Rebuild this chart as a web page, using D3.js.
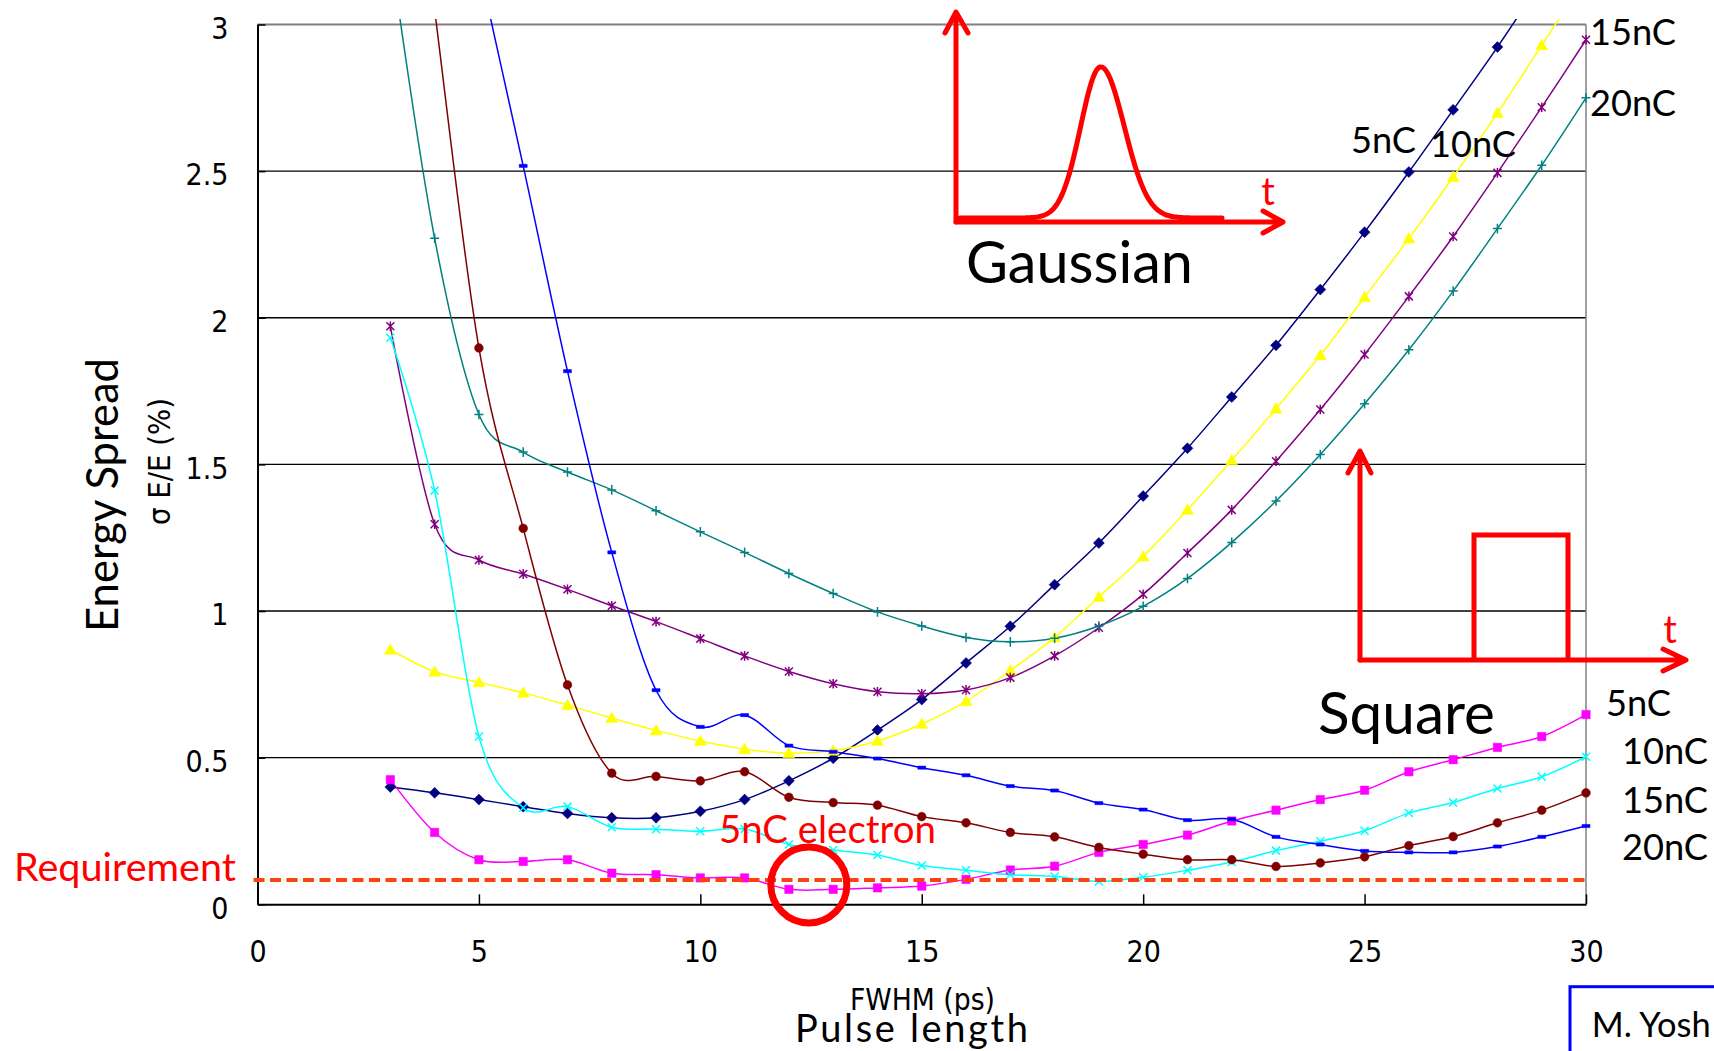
<!DOCTYPE html>
<html><head><meta charset="utf-8">
<script src="https://cdnjs.cloudflare.com/ajax/libs/d3/7.8.5/d3.min.js"></script>
<style>
html,body{margin:0;padding:0;background:#fff;overflow:hidden}
svg{display:block;background:#fff}
</style></head><body>
<svg id="chart" width="1714" height="1051"></svg>
<script>
// ---------------- DATA ----------------
const fwhm = [3,4,5,6,7,8,9,10,11,12,13,14,15,16,17,18,19,20,21,22,23,24,25,26,27,28,29,30];
// Gaussian laser pulse
const gauss5nC  = [0.400,0.380,0.357,0.333,0.310,0.295,0.295,0.317,0.357,0.421,0.498,0.594,0.698,0.823,0.948,1.090,1.232,1.392,1.555,1.730,1.906,2.096,2.292,2.497,2.709,2.923,3.150,3.380];
const gauss10nC = [0.868,0.793,0.757,0.721,0.679,0.635,0.593,0.557,0.529,0.515,0.524,0.557,0.615,0.692,0.797,0.910,1.048,1.186,1.345,1.514,1.690,1.872,2.070,2.270,2.480,2.698,2.929,3.160];
const gauss15nC = [1.971,1.296,1.174,1.126,1.074,1.018,0.964,0.906,0.847,0.794,0.752,0.725,0.718,0.731,0.773,0.847,0.943,1.057,1.198,1.345,1.511,1.687,1.875,2.073,2.277,2.494,2.718,2.948];
const gauss20nC = [3.250,2.271,1.670,1.542,1.474,1.413,1.342,1.270,1.200,1.128,1.060,0.997,0.949,0.910,0.895,0.907,0.949,1.016,1.111,1.234,1.375,1.534,1.707,1.891,2.091,2.304,2.520,2.750];
// Square laser pulse
const square5nC  = [0.425,0.245,0.152,0.146,0.152,0.106,0.101,0.090,0.090,0.051,0.051,0.056,0.062,0.085,0.117,0.130,0.177,0.204,0.236,0.284,0.321,0.357,0.389,0.452,0.493,0.535,0.572,0.647];
const square10nC = [1.932,1.411,0.572,0.329,0.333,0.263,0.256,0.249,0.257,0.204,0.185,0.168,0.132,0.116,0.101,0.095,0.078,0.092,0.116,0.144,0.183,0.215,0.251,0.311,0.347,0.395,0.435,0.503];
const square15nC = [4.300,3.050,1.897,1.282,0.748,0.447,0.436,0.421,0.452,0.365,0.347,0.338,0.299,0.278,0.245,0.230,0.194,0.171,0.152,0.152,0.129,0.141,0.162,0.200,0.231,0.278,0.321,0.380];
const square20nC = [null,3.900,3.200,2.518,1.818,1.200,0.730,0.605,0.645,0.541,0.520,0.497,0.466,0.440,0.403,0.388,0.345,0.323,0.287,0.290,0.230,0.204,0.182,0.177,0.177,0.197,0.230,0.267];

const requirement = 0.083;
const highlight = [12.45, 0.066];   // "5nC electron" circled point

const xTicks = [0,5,10,15,20,25,30];
const xTickLabels = ["0","5","10","15","20","25","30"];
const yTicks = [0,0.5,1,1.5,2,2.5,3];
const yTickLabels = ["0","0.5","1","1.5","2","2.5","3"];

// ---------------- SETUP ----------------
const W = 1714, H = 1051;
const svg = d3.select("#chart");
svg.append("rect").attr("width",W).attr("height",H).attr("fill","#fff");

const x = d3.scaleLinear().domain([0,30]).range([257.5,1586]);
const y = d3.scaleLinear().domain([0,3]).range([904.3,24.5]);

const CAL = "Lato, 'Open Sans', 'Noto Sans', sans-serif";
const NARROW = "'Liberation Sans Narrow','DejaVu Sans Condensed','Arial Narrow',sans-serif";

const series = [
  {values: gauss5nC,  color:"#000080", marker:"diamond"},
  {values: gauss10nC, color:"#FFFF00", marker:"triangle"},
  {values: gauss15nC, color:"#800080", marker:"asterisk"},
  {values: gauss20nC, color:"#008080", marker:"plus"},
  {values: square5nC, color:"#FF00FF", marker:"square"},
  {values: square10nC,color:"#00FFFF", marker:"cross"},
  {values: square15nC,color:"#800000", marker:"circle"},
  {values: square20nC,color:"#0000FF", marker:"dash"}
];
const markers = {
  diamond: {d:"M0,-5.5L5.5,0L0,5.5L-5.5,0Z", fill:true},
  triangle:{d:"M0,-6L6,4.5H-6Z", fill:true},
  square:  {d:"M-4.2,-4.2H4.2V4.2H-4.2Z", fill:true},
  circle:  {d:d3.symbol(d3.symbolCircle, 60)(), fill:true},
  dash:    {d:"M-4,-1.6H4V1.6H-4Z", fill:true},
  cross:   {d:"M-4,-4L4,4M-4,4L4,-4", fill:false},
  asterisk:{d:"M-4,-4L4,4M-4,4L4,-4M0,-4.8V4.8", fill:false},
  plus:    {d:"M-4.5,0H4.5M0,-4.8V4.8", fill:false}
};

// ---------------- GRID & AXES ----------------
svg.append("g").selectAll("line").data(yTicks.filter(v=>v>0)).join("line")
  .attr("x1",x(0)).attr("x2",x(30))
  .attr("y1",d=>y(d)).attr("y2",d=>y(d))
  .attr("stroke",d=>d===3?"#808080":"#000")
  .attr("stroke-width",d=>d===3?2:1.4);
svg.append("line").attr("x1",x(30)).attr("x2",x(30)).attr("y1",y(3)).attr("y2",y(0))
  .attr("stroke","#808080").attr("stroke-width",1.5);

const gx = svg.append("g").attr("transform",`translate(0,${y(0)})`)
  .call(d3.axisBottom(x).tickValues(xTicks).tickSizeInner(-10).tickSizeOuter(0)
        .tickFormat((d,i)=>xTickLabels[i]));
gx.select(".domain").attr("stroke","#000").attr("stroke-width",2);
gx.selectAll(".tick line").attr("stroke","#000").attr("stroke-width",1.5);
gx.selectAll(".tick text").attr("y",58).attr("dy",0)
  .attr("font-family",NARROW).attr("font-size",30).attr("fill","#000");

const gy = svg.append("g").attr("transform",`translate(${x(0)},0)`)
  .call(d3.axisLeft(y).tickValues(yTicks).tickSizeInner(-8).tickSizeOuter(0)
        .tickFormat((d,i)=>yTickLabels[i]));
gy.select(".domain").attr("stroke","#000").attr("stroke-width",2);
gy.selectAll(".tick line").attr("stroke","#000").attr("stroke-width",1.5);
gy.selectAll(".tick text").attr("x",-29).attr("dy",0).attr("y",13.7)
  .attr("font-family",NARROW).attr("font-size",30).attr("fill","#000");

// ---------------- SERIES ----------------
svg.append("clipPath").attr("id","clipTop").append("rect")
  .attr("x",0).attr("y",19).attr("width",W).attr("height",H-19);
const gS = svg.append("g").attr("clip-path","url(#clipTop)");
const line = d3.line().defined(d=>d[1]!=null)
  .x(d=>x(d[0])).y(d=>y(d[1])).curve(d3.curveCardinal.tension(0));

series.forEach(s=>{
  const pts = fwhm.map((f,i)=>[f, s.values[i]]);
  gS.append("path").attr("d",line(pts)).attr("fill","none")
    .attr("stroke",s.color).attr("stroke-width",1.5);
});
series.forEach(s=>{
  const pts = fwhm.map((f,i)=>[f, s.values[i]]).filter(p=>p[1]!=null);
  const m = markers[s.marker];
  gS.append("g").selectAll("path").data(pts).join("path")
    .attr("transform",p=>`translate(${x(p[0])},${y(p[1])})`)
    .attr("d",m.d)
    .attr("fill",m.fill?s.color:"none")
    .attr("stroke",s.color).attr("stroke-width",m.fill?0.5:1.5);
});

// requirement line
svg.append("line").attr("x1",x(0)-4).attr("x2",x(30))
  .attr("y1",y(requirement)).attr("y2",y(requirement))
  .attr("stroke","#FF4010").attr("stroke-width",4).attr("stroke-dasharray","11,5.5");

// highlight circle
svg.append("circle").attr("cx",x(highlight[0])).attr("cy",y(highlight[1])).attr("r",38)
  .attr("fill","none").attr("stroke","#FF0000").attr("stroke-width",7);

// ---------------- INSETS ----------------
const red = "#FF0000";
const ins = svg.append("g").attr("fill","none").attr("stroke",red).attr("stroke-width",5)
  .attr("stroke-linecap","round").attr("stroke-linejoin","round");
// Gaussian inset
ins.append("path").attr("d","M956,222V13M945,33L956,12L968,33");
ins.append("path").attr("d","M956,222H1281M1263,211L1283,222L1263,233");
const gBase=218, gPeak=66.7, gC=1100.7;
const gPts = d3.range(960,1224,2).map(px=>{
  const s = px<gC?20:23.5;
  return [px, gBase-(gBase-gPeak)*Math.exp(-((px-gC)**2)/(2*s*s))];
});
ins.append("path").attr("d",d3.line().curve(d3.curveBasis)(gPts));
// Square inset
ins.append("path").attr("d","M1360,660V452M1348,473L1360,451L1371,473");
ins.append("path").attr("d","M1360,660H1685M1663,649L1686,660L1663,671");
ins.append("path").attr("d","M1474,660V535H1568V660").attr("stroke-linecap","butt").attr("stroke-linejoin","miter");

// ---------------- TEXT ----------------
function txt(s, px, py, opt={}){
  const t = svg.append("text").text(s).attr("x",px).attr("y",py)
    .attr("font-family",opt.font||CAL).attr("font-size",opt.size||40)
    .attr("fill",opt.color||"#000").attr("text-anchor",opt.anchor||"start");
  if(opt.rotate) t.attr("transform",`rotate(-90,${px},${py})`);
  if(opt.width){
    const w = t.node().getComputedTextLength();
    t.attr("font-size",(opt.size||40)*opt.width/w);
  }
  if(opt.spread){
    t.attr("textLength",opt.spread).attr("lengthAdjust","spacing");
  }
  return t;
}
txt("Gaussian",966,283,{width:227});
txt("Square",1318,733.7,{width:177});
const lab = txt("15nC",1590,45,{width:86});
const labSize = +lab.attr("font-size");
txt("20nC",1590,116,{width:86});
txt("5nC",1351,152.7,{width:65});
txt("10nC",1430,156.7,{width:86});
txt("5nC",1606,716,{width:65});
txt("10nC",1622,764,{width:86});
txt("15nC",1622,812.7,{width:86});
txt("20nC",1622,860,{width:86});
txt("t",1268,205,{color:red,anchor:"middle",size:labSize*1.05});
txt("t",1670,643,{color:red,anchor:"middle",size:labSize*1.05});
txt("Requirement",14,881,{color:red,width:222});
txt("5nC electron",719,842.6,{color:red,width:217});
txt("Energy Spread",118,495,{anchor:"middle",rotate:true,width:274});
txt("σ E/E (%)",170,461.5,{anchor:"middle",rotate:true,width:127,font:NARROW});
txt("FWHM (ps)",922.5,1009.5,{anchor:"middle",width:145,font:NARROW});
txt("Pulse length",911.5,1042,{anchor:"middle",size:38,spread:233});

// credit box
svg.append("rect").attr("x",1570).attr("y",986.7).attr("width",300).attr("height",200)
  .attr("fill","none").attr("stroke","#0000FF").attr("stroke-width",3);
txt("M. Yosh",1591.7,1036.7,{width:119});
</script>
</body></html>
